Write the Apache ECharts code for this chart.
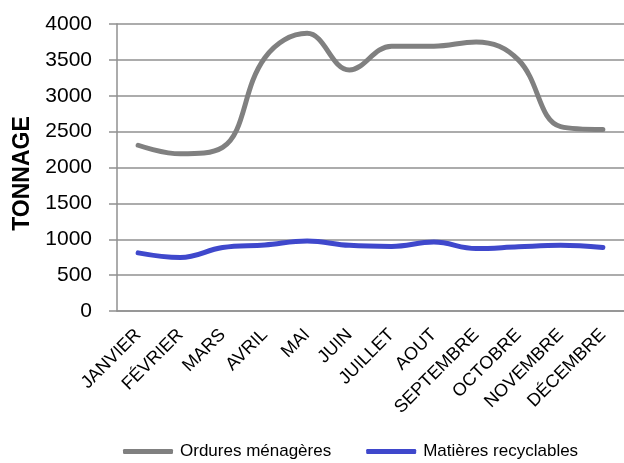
<!DOCTYPE html>
<html>
<head>
<meta charset="utf-8">
<script src="https://cdn.jsdelivr.net/npm/echarts@6/dist/echarts.min.js"></script>
<style>html,body{margin:0;padding:0;background:#fff}#c{width:624px;height:463px}</style>
</head>
<body>
<div id="c"></div>
<script>
const categories = ['JANVIER','FÉVRIER','MARS','AVRIL','MAI','JUIN','JUILLET','AOUT','SEPTEMBRE','OCTOBRE','NOVEMBRE','DÉCEMBRE'];
const ordures = [2310, 2190, 2280, 3530, 3870, 3360, 3690, 3690, 3750, 3500, 2570, 2530];
const recyclables = [810, 745, 885, 920, 975, 915, 900, 960, 870, 895, 915, 885];
const seriesNames = ['Ordures ménagères', 'Matières recyclables'];
const yAxisTitle = 'TONNAGE';

const font = 'Liberation Sans, Arial, sans-serif';
const chart = echarts.init(document.getElementById('c'), null, {renderer: 'canvas'});
chart.setOption({
  animation: false,
  grid: {left: 117, right: -6, top: 24, bottom: 152, containLabel: false},
  xAxis: {
    type: 'category',
    data: categories,
    boundaryGap: true,
    axisLine: {lineStyle: {color: '#909090', width: 1.5}},
    axisTick: {length: 5, lineStyle: {color: '#909090', width: 1.5}},
    axisLabel: {rotate: 45, interval: 0, margin: 21, color: '#000', fontSize: 18, fontFamily: font}
  },
  yAxis: {
    type: 'value',
    min: 0, max: 4000, interval: 500,
    name: yAxisTitle,
    nameLocation: 'middle',
    nameRotate: 90,
    nameGap: 81,
    nameTextStyle: {color: '#000', fontSize: 23, fontWeight: 'bold', fontFamily: font, padding: [0, 12, 0, 0]},
    axisLine: {show: true, lineStyle: {color: '#909090', width: 1.5}},
    axisTick: {show: true, length: 8, lineStyle: {color: '#909090', width: 1.5}},
    axisLabel: {margin: 25, color: '#000', fontSize: 21, fontFamily: font, formatter: v => String(v)},
    splitLine: {lineStyle: {color: '#909090', width: 1.5}}
  },
  legend: {
    left: 123, top: 443, padding: 0,
    itemWidth: 50, itemHeight: 5, itemGap: 35,
    textStyle: {color: '#000', fontSize: 17, fontFamily: font, padding: [0, 0, 0, 2]},
    data: [{name: seriesNames[0], icon: 'roundRect'}, {name: seriesNames[1], icon: 'roundRect'}]
  },
  series: [
    {name: seriesNames[0], type: 'line', data: ordures, smooth: 0.4, symbol: 'none',
     lineStyle: {color: '#808080', width: 5, cap: 'round'}, itemStyle: {color: '#808080'}},
    {name: seriesNames[1], type: 'line', data: recyclables, smooth: 0.4, symbol: 'none',
     lineStyle: {color: '#3f48cc', width: 5, cap: 'round'}, itemStyle: {color: '#3f48cc'}}
  ]
});
</script>
</body>
</html>
